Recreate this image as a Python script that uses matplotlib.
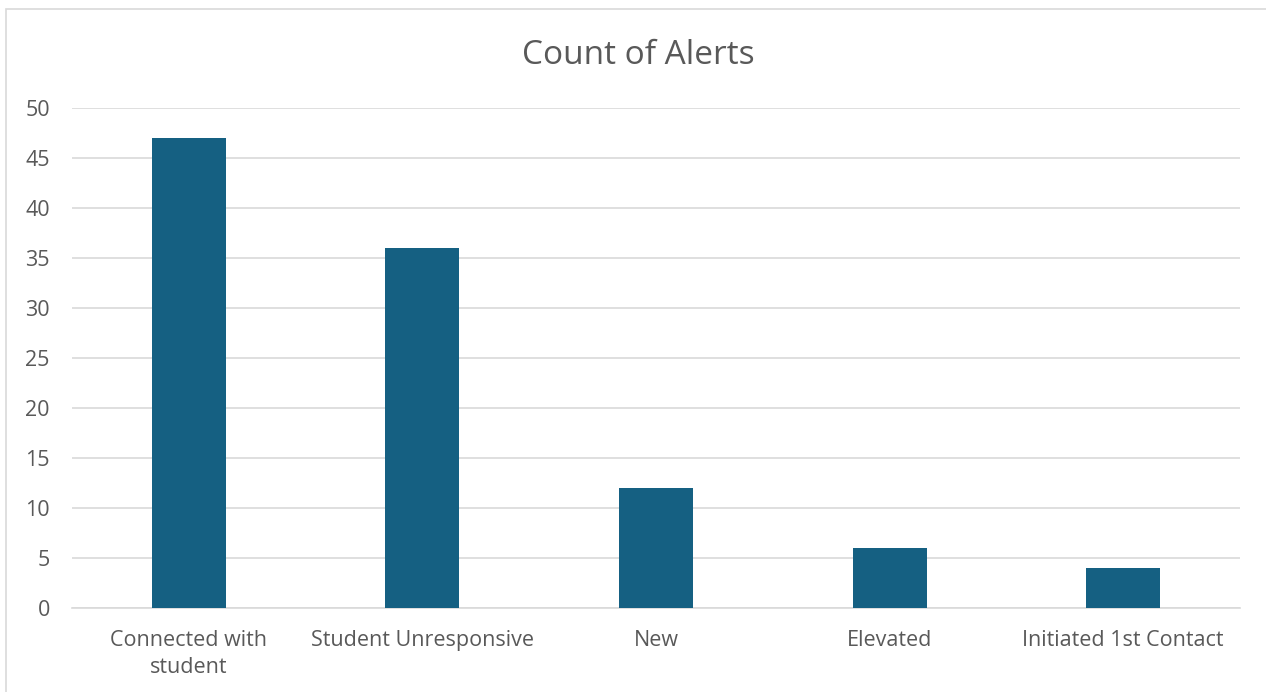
import matplotlib.pyplot as plt
from matplotlib.patches import Rectangle

plt.rcParams['font.family'] = ['Open Sans', 'DejaVu Sans']

categories = ['Connected with\nstudent', 'Student Unresponsive', 'New', 'Elevated', 'Initiated 1st Contact']
counts = [47, 36, 12, 6, 4]
yticks = [0, 5, 10, 15, 20, 25, 30, 35, 40, 45, 50]

fig = plt.figure(figsize=(12.66, 6.92), dpi=100)
ax = fig.add_axes([72 / 1266, 1 - 608 / 692, (1240 - 72) / 1266, (608 - 108) / 692])

# chart border
fig.patches.append(Rectangle((6 / 1266, -0.01), 1.0, 1 - 9 / 692 + 0.01, transform=fig.transFigure,
                             fill=False, edgecolor='#d9d9d9', linewidth=1.2))

x = range(len(categories))
ax.bar(x, counts, width=0.317, color='#156082', zorder=3)

ax.set_xlim(-0.5, len(categories) - 0.5)
ax.set_ylim(0, 50)
ax.set_yticks(yticks)
ax.set_xticks(list(x))
ax.set_xticklabels(categories, fontsize=15.5, color='#595959', linespacing=1.35)
ax.tick_params(axis='y', labelsize=15.5, labelcolor='#595959', length=0, pad=16)
ax.tick_params(axis='x', length=0, pad=16)

ax.grid(axis='y', color='#d9d9d9', linewidth=1.2, zorder=0)
for s in ['top', 'right', 'left']:
    ax.spines[s].set_visible(False)
ax.spines['bottom'].set_color('#d9d9d9')
ax.spines['bottom'].set_linewidth(1.2)

fig.text(638 / 1266, 1 - 56 / 692, 'Count of Alerts', ha='center', va='center',
         fontsize=24, color='#595959')

plt.savefig('out.png', dpi=100)
